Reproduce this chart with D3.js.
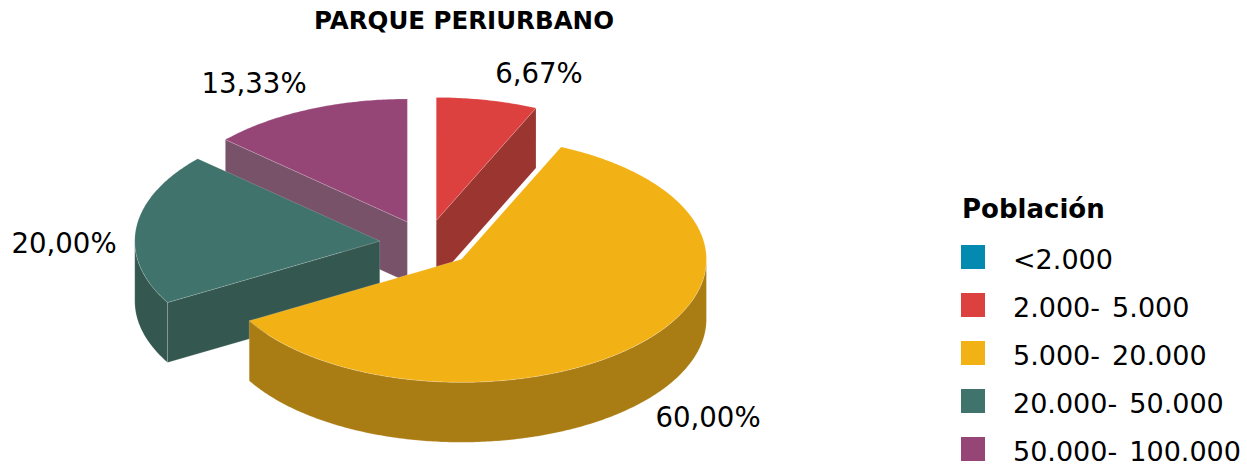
<!DOCTYPE html>
<html><head><meta charset="utf-8">
<script src="https://cdnjs.cloudflare.com/ajax/libs/d3/7.8.5/d3.min.js"></script>
<style>html,body{margin:0;padding:0;background:#fff}svg{display:block}text{font-family:"DejaVu Sans",sans-serif;fill:#000}</style>
</head><body><svg id="c" width="1247" height="470"></svg>
<script>
const chartTitle = "PARQUE PERIURBANO";
const legendTitle = "Población";
const categories = ["<2.000","2.000- 5.000","5.000- 20.000","20.000- 50.000","50.000- 100.000"];
const values = [0, 6.67, 60, 20, 13.33];
const valueLabels = ["", "6,67%", "60,00%", "20,00%", "13,33%"];
const topColors = ["#0489b1","#dc4140","#f2b115","#3f736b","#964577"];
const wallColors = ["#036680","#9a352f","#aa7c14","#345750","#775269"];

// layout (not data)
const L = {cx:426.5, cy:243.5, rx:245, ry:123, depth:60, explode:47};
const labelPos = [null,[539,73],[708,417],[64,243],[254,83]];
const svg = d3.select("#c");

const pie = d3.pie().sort(null).startAngle(0).endAngle(2*Math.PI);
const arcs = pie(values);
const pt = (o,a,r=1,dz=0)=>[o[0]+Math.sin(a)*L.rx*r, o[1]-Math.cos(a)*L.ry*r+dz];
const line = d3.line();
const rim = (o,a0,a1,dz)=>{const n=Math.max(2,Math.ceil((a1-a0)*90));
  return d3.range(n+1).map(i=>pt(o,a0+(a1-a0)*i/n,1,dz));};
const edge = "rgba(255,255,255,.28)";
const order = [4,1,3,2,0];

order.forEach(i=>{
  const d = arcs[i]; if(d.endAngle-d.startAngle<=0) return;
  const mid=(d.startAngle+d.endAngle)/2;
  const o=[L.cx+Math.sin(mid)*L.explode, L.cy-Math.cos(mid)*L.explode*L.ry/L.rx];
  const g=svg.append("g");
  const face=a=>[[...o],pt(o,a),pt(o,a,1,L.depth),[o[0],o[1]+L.depth]];
  if(d.startAngle>=Math.PI) g.append("path").attr("d",line(face(d.startAngle))+"Z").attr("fill",wallColors[i]).attr("stroke",edge).attr("stroke-width",.6);
  if(d.endAngle<=Math.PI) g.append("path").attr("d",line(face(d.endAngle))+"Z").attr("fill",wallColors[i]).attr("stroke",edge).attr("stroke-width",.6);
  const w0=Math.max(d.startAngle,Math.PI/2), w1=Math.min(d.endAngle,3*Math.PI/2);
  if(w1>w0){
    g.append("path").attr("d",line([...rim(o,w0,w1,0),...rim(o,w0,w1,L.depth).reverse()])+"Z")
      .attr("fill",wallColors[i]).attr("stroke",edge).attr("stroke-width",.6);
  }
  g.append("path").attr("d",line([[...o],...rim(o,d.startAngle,d.endAngle,0)])+"Z")
    .attr("fill",topColors[i]).attr("stroke",edge).attr("stroke-width",.6);
});

svg.append("text").attr("x",464).attr("y",28.5).attr("text-anchor","middle")
  .attr("font-size",24.5).attr("font-weight","bold").text(chartTitle);

valueLabels.forEach((t,i)=>{ if(!t) return;
  svg.append("text").attr("x",labelPos[i][0]).attr("y",labelPos[i][1]).attr("dy","0.36em")
    .attr("text-anchor","middle").attr("font-size",27.6).text(t);
});

svg.append("text").attr("x",962).attr("y",218).attr("font-size",26).attr("font-weight","bold").text(legendTitle);
const ly=d3.scalePoint().domain(categories).range([245,437]);
categories.forEach((c,i)=>{
  svg.append("rect").attr("x",961).attr("y",ly(c)).attr("width",24).attr("height",24).attr("fill",topColors[i]);
  svg.append("text").attr("x",1013).attr("y",ly(c)+24).attr("font-size",27).attr("word-spacing",3.5).text(c);
});
</script></body></html>
